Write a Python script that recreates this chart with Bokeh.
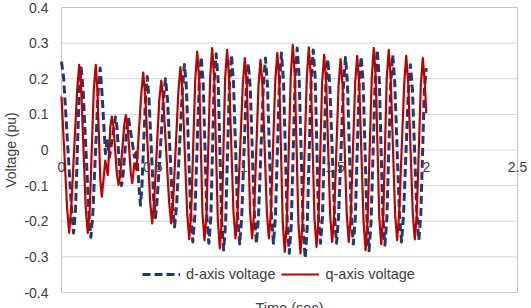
import math
from bokeh.plotting import figure
from bokeh.models import Range1d, Legend, LegendItem
from bokeh.core.properties import value
from bokeh.embed import file_html
from bokeh.resources import INLINE

# q-axis voltage (pu) against time (s)
time_q = [0.000, 0.031, 0.042, 0.053, 0.086, 0.097, 0.108, 0.133, 0.144, 0.155,
          0.177, 0.188, 0.197, 0.213, 0.221, 0.229, 0.240, 0.254, 0.268, 0.276,
          0.285, 0.304, 0.313, 0.322, 0.344, 0.353, 0.362, 0.380, 0.388, 0.400,
          0.411, 0.437, 0.448, 0.459, 0.486, 0.497, 0.508, 0.536, 0.547, 0.558,
          0.590, 0.601, 0.612, 0.641, 0.652, 0.663, 0.689, 0.700, 0.711, 0.733,
          0.744, 0.755, 0.773, 0.784, 0.795, 0.815, 0.826, 0.837, 0.857, 0.868,
          0.879, 0.897, 0.908, 0.919, 0.943, 0.954, 0.965, 0.994, 1.005, 1.016,
          1.034, 1.045, 1.056, 1.080, 1.091, 1.102, 1.126, 1.137, 1.148, 1.172,
          1.183, 1.194, 1.213, 1.224, 1.235, 1.257, 1.268, 1.279, 1.299, 1.310,
          1.321, 1.345, 1.356, 1.367, 1.387, 1.398, 1.409, 1.429, 1.440, 1.451,
          1.473, 1.484, 1.495, 1.519, 1.530, 1.541, 1.564, 1.575, 1.586, 1.610,
          1.621, 1.632, 1.656, 1.667, 1.678, 1.701, 1.712, 1.723, 1.742, 1.753,
          1.764, 1.783, 1.794, 1.805, 1.829, 1.840, 1.851, 1.879, 1.890, 1.901,
          1.926, 1.937, 1.948, 1.970, 1.981, 1.992, 2.000]
volt_q = [0.150, -0.165, -0.232, -0.165, 0.170, 0.239, 0.170, -0.165, -0.233, -0.165,
          0.170, 0.239, 0.165, -0.085, -0.131, -0.090, -0.030, -0.070, 0.065, 0.094,
          0.065, -0.070, -0.098, -0.070, 0.070, 0.098, 0.070, -0.065, -0.093, -0.037,
          -0.056, 0.155, 0.217, 0.155, -0.145, -0.206, -0.145, 0.140, 0.195, 0.140,
          -0.145, -0.206, -0.145, 0.165, 0.233, 0.165, -0.177, -0.250, -0.177, 0.195,
          0.276, 0.195, -0.180, -0.253, -0.180, 0.203, 0.286, 0.203, -0.196, -0.276,
          -0.196, 0.200, 0.281, 0.200, -0.176, -0.248, -0.176, 0.183, 0.258, 0.183,
          -0.176, -0.248, -0.176, 0.180, 0.253, 0.180, -0.176, -0.248, -0.176, 0.194,
          0.273, 0.194, -0.203, -0.286, -0.203, 0.209, 0.295, 0.209, -0.206, -0.290,
          -0.206, 0.204, 0.288, 0.204, -0.193, -0.272, -0.193, 0.190, 0.267, 0.190,
          -0.183, -0.258, -0.183, 0.181, 0.255, 0.181, -0.183, -0.258, -0.183, 0.187,
          0.264, 0.187, -0.200, -0.281, -0.200, 0.203, 0.286, 0.203, -0.187, -0.264,
          -0.187, 0.200, 0.281, 0.200, -0.180, -0.253, -0.180, 0.187, 0.264, 0.187,
          -0.178, -0.251, -0.178, 0.183, 0.258, 0.183, 0.103]

# d-axis voltage (pu) against time (s)
time_d = [0.000, 0.012, 0.055, 0.066, 0.077, 0.097, 0.108, 0.119, 0.150, 0.161,
          0.172, 0.201, 0.212, 0.222, 0.241, 0.252, 0.263, 0.288, 0.296, 0.304,
          0.321, 0.329, 0.337, 0.359, 0.367, 0.375, 0.400, 0.411, 0.426, 0.433,
          0.441, 0.461, 0.470, 0.479, 0.505, 0.515, 0.525, 0.559, 0.570, 0.581,
          0.609, 0.620, 0.631, 0.663, 0.674, 0.685, 0.709, 0.720, 0.731, 0.755,
          0.766, 0.777, 0.797, 0.808, 0.819, 0.837, 0.848, 0.859, 0.878, 0.889,
          0.900, 0.921, 0.932, 0.943, 0.966, 0.977, 0.988, 1.013, 1.024, 1.035,
          1.058, 1.069, 1.080, 1.107, 1.118, 1.129, 1.151, 1.162, 1.173, 1.195,
          1.206, 1.217, 1.238, 1.249, 1.260, 1.281, 1.292, 1.303, 1.325, 1.336,
          1.347, 1.369, 1.380, 1.391, 1.409, 1.420, 1.431, 1.449, 1.460, 1.471,
          1.497, 1.508, 1.519, 1.546, 1.557, 1.568, 1.589, 1.600, 1.611, 1.632,
          1.643, 1.654, 1.675, 1.686, 1.697, 1.720, 1.731, 1.742, 1.762, 1.773,
          1.784, 1.805, 1.816, 1.827, 1.853, 1.864, 1.875, 1.902, 1.913, 1.924,
          1.948, 1.959, 1.970, 1.989, 2.000]
volt_d = [0.248, 0.200, -0.165, -0.233, -0.165, 0.165, 0.230, 0.165, -0.175, -0.245,
          -0.175, 0.165, 0.230, 0.160, -0.010, 0.030, -0.020, 0.065, 0.093, 0.065,
          -0.072, -0.100, -0.072, 0.065, 0.090, 0.065, -0.020, 0.000, -0.110, -0.155,
          -0.100, 0.150, 0.206, 0.150, -0.135, -0.190, -0.135, 0.143, 0.200, 0.143,
          -0.155, -0.216, -0.155, 0.172, 0.240, 0.172, -0.185, -0.258, -0.185, 0.187,
          0.262, 0.187, -0.187, -0.262, -0.187, 0.193, 0.270, 0.193, -0.200, -0.281,
          -0.200, 0.190, 0.267, 0.190, -0.188, -0.264, -0.188, 0.173, 0.243, 0.173,
          -0.187, -0.262, -0.187, 0.184, 0.258, 0.184, -0.187, -0.262, -0.187, 0.194,
          0.272, 0.194, -0.207, -0.290, -0.207, 0.204, 0.286, 0.204, -0.217, -0.304,
          -0.217, 0.200, 0.281, 0.200, -0.187, -0.262, -0.187, 0.182, 0.255, 0.182,
          -0.187, -0.262, -0.187, 0.185, 0.260, 0.185, -0.188, -0.264, -0.188, 0.187,
          0.262, 0.187, -0.202, -0.283, -0.202, 0.200, 0.281, 0.200, -0.190, -0.267,
          -0.190, 0.190, 0.267, 0.190, -0.184, -0.258, -0.184, 0.170, 0.239, 0.170,
          -0.180, -0.253, -0.180, 0.165, 0.230]

x_ticks = [0, 0.5, 1, 1.5, 2, 2.5]
x_tick_labels = ["0", "0.5", "1", "1.5", "2", "2.5"]
y_ticks = [-0.4, -0.3, -0.2, -0.1, 0.0, 0.1, 0.2, 0.3, 0.4]
y_tick_labels = ["-0.4", "-0.3", "-0.2", "-0.1", "0", "0.1", "0.2", "0.3", "0.4"]

# page and plot-area geometry in pixels
W, H = 531, 308
AREA_L, AREA_R, AREA_T, AREA_B = 61, 517, 7, 292

FONT = value("Liberation Sans")
TEXT = "#404040"
NAVY = "#1F3A6E"
RED = "#C00000"
GRID = "#D9D9D9"
BOX = "#C6C6C6"

x0, x1 = x_ticks[0], x_ticks[-1]
y0, y1 = y_ticks[0], y_ticks[-1]
sx = (x1 - x0) / (AREA_R - AREA_L)
sy = (y1 - y0) / (AREA_B - AREA_T)

# the frame covers the whole page so that all texts can sit outside the plot area
p = figure(width=W, height=H, output_backend="svg", toolbar_location=None,
           x_range=Range1d(x0 - AREA_L * sx, x1 + (W - AREA_R) * sx),
           y_range=Range1d(y0 - (H - AREA_B) * sy, y1 + AREA_T * sy),
           x_axis_location=None, y_axis_location=None,
           min_border_left=0, min_border_right=0,
           min_border_top=0, min_border_bottom=0)
p.background_fill_color = "white"
p.border_fill_color = "white"
p.outline_line_color = None
p.grid.visible = False

# horizontal gridlines and the plot-area box
inner = y_ticks[1:-1]
p.segment(x0=[x0] * len(inner), x1=[x1] * len(inner), y0=inner, y1=inner,
          line_color=GRID, line_width=1)
p.quad(left=[x0], right=[x1], bottom=[y0], top=[y1], fill_color=None,
       line_color=BOX, line_width=1)

rd = p.line(time_d, volt_d, line_color=NAVY, line_width=3, line_dash="8 4",
            line_join="round")
rq = p.line(time_q, volt_q, line_color=RED, line_width=2.2, line_join="round")

# y tick labels
p.text(x=[x0] * len(y_ticks), y=y_ticks, text=y_tick_labels, x_offset=-13,
       text_align="right", text_baseline="middle", text_font=FONT,
       text_font_size="14px", text_color=TEXT)
# x tick labels sit just under the zero line, where the horizontal axis crosses
p.text(x=x_ticks, y=[0] * len(x_ticks), text=x_tick_labels, y_offset=17,
       text_align="center", text_baseline="middle", text_font=FONT,
       text_font_size="14px", text_color=TEXT)
# axis titles
p.text(x=[x0], y=[(y0 + y1) / 2], text=["Voltage (pu)"], x_offset=-51,
       angle=math.pi / 2, text_align="center", text_baseline="middle",
       text_font=FONT, text_font_size="14px", text_color=TEXT)
p.text(x=[(x0 + x1) / 2], y=[y0], text=["Time (sec)"], y_offset=7,
       text_align="center", text_baseline="top", text_font=FONT,
       text_font_size="14.5px", text_color=TEXT)

legend = Legend(items=[LegendItem(label="d-axis voltage", renderers=[rd]),
                       LegendItem(label="q-axis voltage", renderers=[rq])],
                orientation="horizontal", location=(142, H - AREA_B + 9),
                glyph_width=38, glyph_height=18, label_height=18,
                label_standoff=6, spacing=6, padding=0, margin=0,
                border_line_color=None, background_fill_alpha=0,
                label_text_font="Liberation Sans", label_text_font_size="14.5px",
                label_text_color=TEXT)
p.add_layout(legend)

open("out.html", "w").write(file_html(p, INLINE))
